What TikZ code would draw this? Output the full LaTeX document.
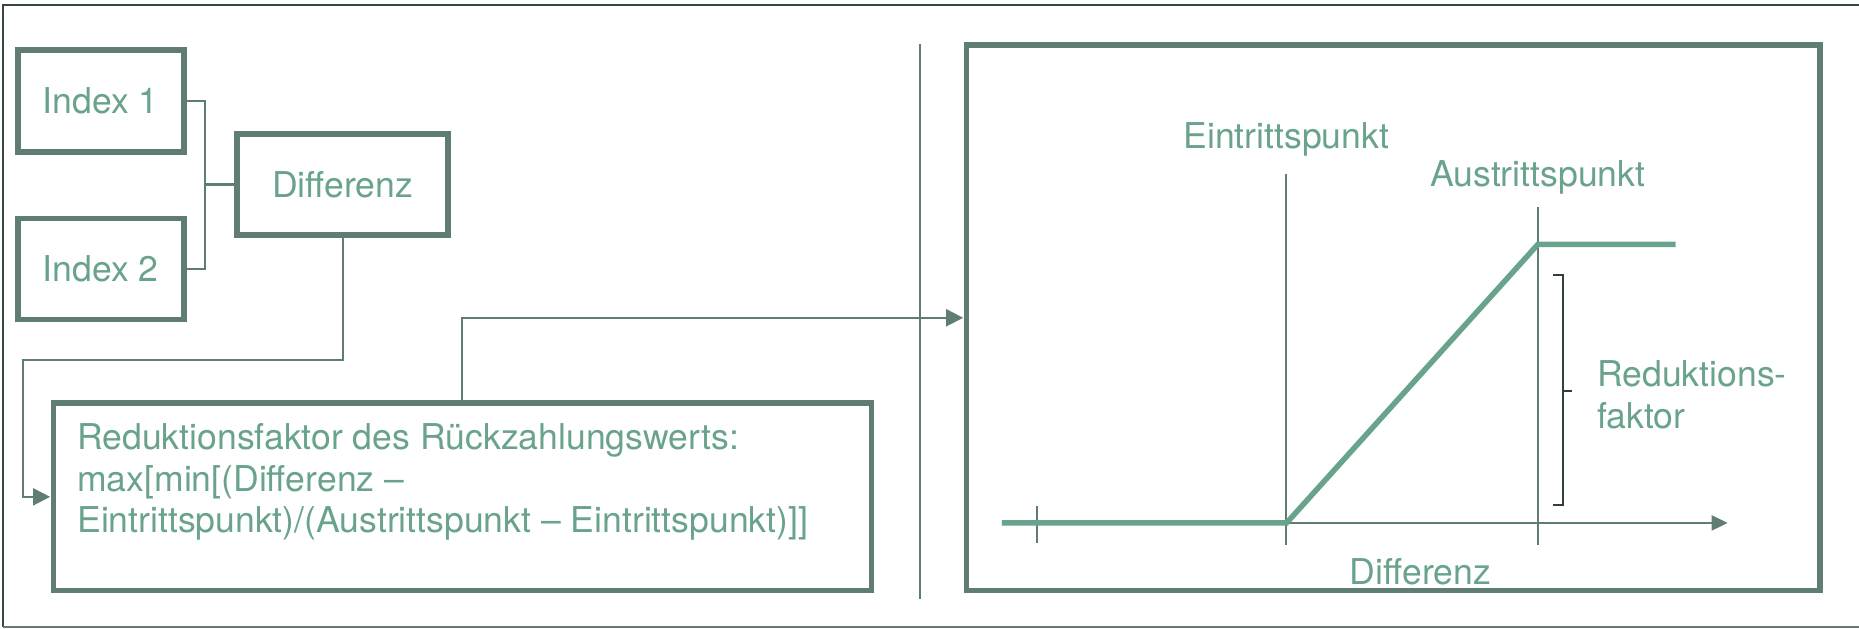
\documentclass[tikz,border=0pt]{standalone}
\usepackage{fontspec}
\setmainfont{TeX Gyre Heros}
\usetikzlibrary{arrows.meta}
\definecolor{bord}{HTML}{5F7D74}
\definecolor{txt}{HTML}{6AA38B}
\definecolor{brk}{HTML}{2F4039}
\definecolor{outerc}{HTML}{33493F}
\definecolor{outerb}{HTML}{5F7D74}
\begin{document}
\begin{tikzpicture}[x=1pt,y=-1pt, scale=1.1856,
 every node/.append style={transform shape},
 font=\fontsize{30}{35}\selectfont,
 box/.style={draw=bord, line width=5.5pt, text=txt, inner sep=0pt},
 conn/.style={draw=bord, line width=2pt},
 tip/.style={-{Triangle[length=17pt,width=17pt]}},
 lab/.style={text=txt, inner sep=0pt}]
\useasboundingbox (0,0) rectangle (1568,530.5);
\draw[outerc, line width=2.5pt] (1568,4.4) -- (2.6,4.4) -- (2.6,528.5);
\draw[outerb, line width=2pt] (2.6,528.5) -- (1568,528.5);
\node[box, minimum width=140pt, minimum height=86pt] (i1) at (85,85) {Index 1};
\node[box, minimum width=140pt, minimum height=85pt] (i2) at (85,227) {Index 2};
\node[box, minimum width=178pt, minimum height=85pt] (dif) at (289,155.5) {Differenz};
\node[box, minimum width=690pt, minimum height=158pt] (red) at (390,419) {};
\node[lab, anchor=north west, align=left] (redtxt) at (65,357) {Reduktionsfaktor des Rückzahlungswerts:\\max[min[(Differenz –\\Eintrittspunkt)/(Austrittspunkt – Eintrittspunkt)]]};
\node[box, minimum width=720pt, minimum height=460pt] (chart) at (1175,268) {};
\coordinate (j1) at (173,155.5);
\draw[conn] (i1.east) -| (j1) |- (i2.east);
\draw[bord, line width=3pt] (j1) -- (dif.west);
\coordinate (c1) at (19,304);
\draw[conn, tip] (dif.south) |- (c1) |- (red.west);
\coordinate (c2) at (390,268);
\draw[conn, tip] (red.north) -- (c2) -- (chart.west);
\draw[conn] (776,37) -- (776,505);
\coordinate (o) at (845,441);
\coordinate (e) at (1085,441);
\coordinate (a) at (1297,206);
\coordinate (f) at (1413,206);
\coordinate (axend) at (1457,441);
\draw[conn, -{Triangle[length=16pt,width=15pt]}] (o) -- (axend);
\draw[conn] (875,427) -- (875,458);
\draw[conn] (1085,147) -- (1085,460);
\draw[conn] (1297,175) -- (1297,460);
\draw[txt, line width=5.5pt] (o) -- (e) -- (a) -- (f);
\node[lab] (ein) at (1085,118) {Eintrittspunkt};
\node[lab] (aus) at (1297,150) {Austrittspunkt};
\node[lab, anchor=west, align=left] (rf) at (1347,333) {Reduktions-\\faktor};
\node[lab] (dx) at (1198,482) {Differenz};
\draw[brk, line width=2pt] (1310,232) -- (1318,232) -- (1318,426) -- (1310,426);
\draw[brk, line width=2pt] (1318,330) -- (1326,330);
\end{tikzpicture}
\end{document}
